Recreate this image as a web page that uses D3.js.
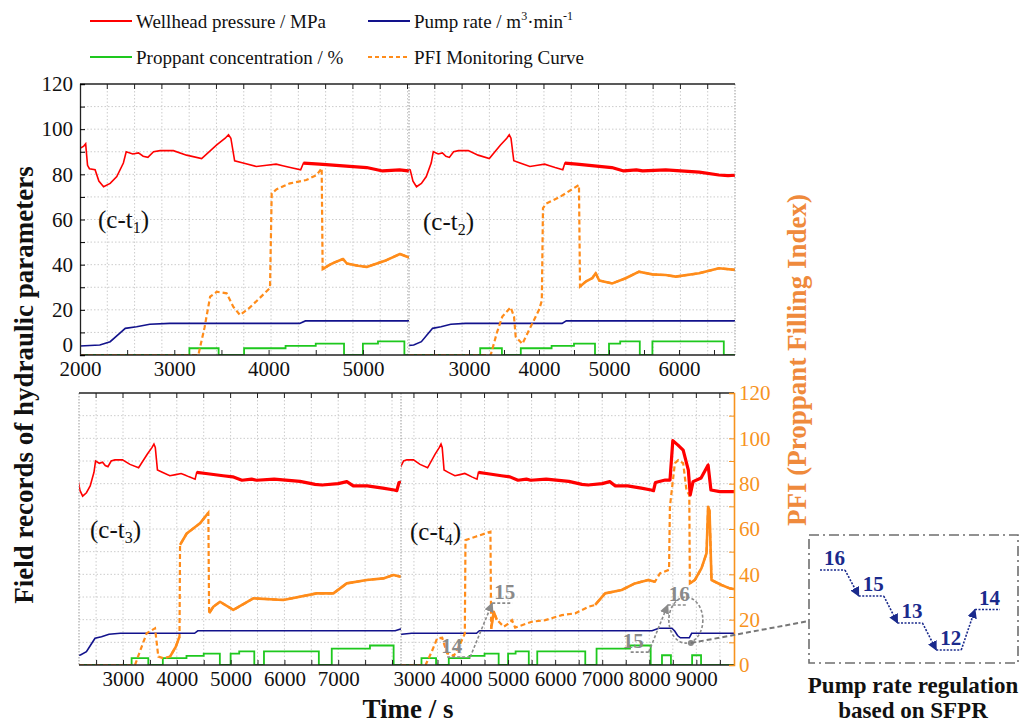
<!DOCTYPE html>
<html><head><meta charset="utf-8">
<script src="https://cdn.jsdelivr.net/npm/d3@7"></script>
<style>
body{margin:0;background:#fff}
svg{display:block}
text{font-family:"Liberation Serif","Times New Roman",serif}
</style>
</head><body>
<svg id="c" width="1022" height="724"></svg>
<script>
// ---------------- DATA ----------------
const redT = [2000,2040,2060,2080,2100,2160,2200,2250,2320,2390,2460,2490,2560,2620,2670,2720,2780,2850,2990,3130,3290,3450,3540,3575,3600,3640,3730,3870,3980,4080,4150,4230,4340,4370,4540,4860,5040,5210,5390,5480,5810,6290,6570,6700,7000,7160,7280,7540,7830,8040,8090,8130,8340,8440,8500,8610,8720,8830,8870,8930,9100,9250,9310,9500,9800];
const redV = [91.5,92.5,93.5,84,82.5,82,77,74.5,76,79,85,90,89,89.5,88,87.5,90,90.5,90.5,88.5,87,93,96,97.5,96,86,85,83.5,84,84.5,83.8,83,82,85,84.5,83.5,83,81.5,82,81.5,82,81,79.7,79.4,80,80.9,79,79,78,77.2,76.9,80.5,81.6,81.6,99,97,94.8,86,75,80.9,82.5,88.2,77.2,76.5,76.5];
const redNoisyFrom = 4370;

const blueT = [2000,2210,2320,2420,2480,2600,2740,2950,4330,4390,8060,8200,8480,8540,8600,8660,8850,8900,9800];
const blueV = [4,4.4,5.9,9.6,11.8,12.5,13.6,14,14,15.1,15.1,16.2,16.2,15,13,12,12,14,14];

const greenT = [2000,3160,3470,3740,4180,4500,4800,5000,5160,5440,5620,6640,6880,7590,8030,8270,8460,8910,9100,9800];
const greenV = [0,3,0,3,4,5,0,5,6,0,6,0,7.2,8.6,0,4.3,0,4.3,0,0];

const pfi1T = [2000,3255,3320,3380,3450,3555,3625,3697,3800,3900,4015,4033,4086,4227,4400,4510,4563,4573,4650,4700,4790,4830,4950,5040,5110,5250,5393,5489];
const pfi1V = [0,0,12,25.8,28,27.3,21.4,17.7,21,25,29.7,71.6,73.4,76,77.5,79.7,82.7,38,40,41,42.5,40.5,39.5,39,40,42,44.7,43.2];
const pfi1Solid = [[4573,5489]];

const pfi2T = [2143,3310,3400,3476,3595,3643,3667,3762,3905,4000,4040,4057,4100,4300,4571,4586,4667,4760,4810,4860,5048,5238,5429,5619,5810,5952,6286,6571,6800];
const pfi2V = [0,0,10,17,21.1,17,8.1,4.9,14,20,24,65,67,70,75.3,30.3,32.5,34,36.2,33,31.7,34,36.9,35.7,35.4,34.7,36.2,38.4,37.7];
const pfi2Solid = [[4586,6800]];

const pfi3T = [2182,3223,3330,3440,3595,3656,3749,3874,3980,4050,4060,4184,4431,4586,4600,4679,4803,5050,5422,5980,6600,6910,7158,7530,7838,8024,8167];
const pfi3V = [0,0,7,14,16.2,3.7,3,3.7,8,12.5,53,58,62.5,67.2,22.8,25.7,27.9,24.3,29.4,28.7,31.6,31.6,36,37.5,38.2,39.7,38.9];
const pfi3Solid = [[3874,4050],[4060,4586],[4600,8167]];

const pfi4T = [2725,3247,3380,3494,3600,3706,3847,3989,4081,4095,4307,4625,4640,4695,4760,4907,4990,5083,5150,5506,5790,6142,6426,6708,6850,7061,7413,7695,7978,8120,8226,8420,8438,8544,8614,8720,8790,8850,8862,8968,9110,9216,9250,9280,9322,9534,9710,9800];
const pfi4V = [0,0,6,11.8,12,5.1,4,9.6,13.9,55.1,56.6,58.8,16,23.5,20,16.9,18,19.8,16.5,19.1,19.8,22,22.8,25.7,26.5,31.6,33.1,36,37.5,36.7,40.4,42,69.8,89,90.4,89,77.2,75,36,37.5,42.7,49.3,69.8,68,37.5,35.3,33.8,33.5];
const pfi4Solid = [[4640,4760],[6850,8120],[8862,9800]];

const panelSubs = ["1","2","3","4"];
const panelDomains = [[2000,5489],[2143,6800],[2182,8167],[2725,9800]];
const panelTickLabels = [[2000,3000,4000,5000],[3000,4000,5000,6000],[3000,4000,5000,6000,7000],[3000,4000,5000,6000,7000,8000,9000]];
const yTickValues = [0,20,40,60,80,100,120];
const yDomain = [0,120];

// annotation data (pump rate steps, c-t4)
const annoRates1 = [14,15];   const annoT1 = [[3705,4195],[4664,5090]];
const annoRates2 = [15,16];   const annoT2 = [[7605,7988],[8393,8798]];
const insetRates = [16,15,13,12,14];

const legendItems = ["Wellhead pressure / MPa","Pump rate / m","Proppant concentration / %","PFI Monitoring Curve"];

// ---------------- LAYOUT ----------------
const svg = d3.select("#c");
const COL = {red:"#ff0000", blue:"#12128c", green:"#1ec81e", orange:"#ff8c1a", axisO:"#f7931e", title:"#ef8a3c", grid:"#cccccc", sep:"#999999", gray:"#8a8a8a", inset:"#1a2a8c"};
const rowsL = [{top:84, bot:355, left:80, right:735}, {top:393, bot:665, left:79, right:734}];
const panelRanges = [[80,409],[409,735],[79,401],[401,734]];
const panelRow = [0,0,1,1];
const pfiT = [pfi1T,pfi2T,pfi3T,pfi4T], pfiV=[pfi1V,pfi2V,pfi3V,pfi4V], pfiS=[pfi1Solid,pfi2Solid,pfi3Solid,pfi4Solid];

const yS = rowsL.map(r => d3.scaleLinear().domain(yDomain).range([r.bot, r.top]));
const xS = panelDomains.map((d,i) => d3.scaleLinear().domain(d).range(panelRanges[i]));

const defs = svg.append("defs");
panelRanges.forEach((r,i)=>{
  const row = rowsL[panelRow[i]];
  defs.append("clipPath").attr("id","clip"+i).append("rect")
    .attr("x",r[0]).attr("y",row.top-2).attr("width",r[1]-r[0]).attr("height",row.bot-row.top+2);
});
function marker(id,color){
  defs.append("marker").attr("id",id).attr("viewBox","0 0 10 10").attr("refX",9).attr("refY",5)
    .attr("markerWidth",6).attr("markerHeight",6).attr("orient","auto-start-reverse")
    .append("path").attr("d","M0,0L10,5L0,10z").attr("fill",color);
}
marker("arrG",COL.gray); marker("arrB",COL.inset);

// ----- grids -----
const gTop = d3.scaleLinear().domain([0,24]).range([rowsL[0].left,rowsL[0].right]);
rowsL.forEach((r,ri)=>{
  const y = yS[ri];
  svg.append("g").selectAll("line").data(d3.range(10,120,10)).join("line")
    .attr("x1",r.left).attr("x2",r.right).attr("y1",d=>y(d)).attr("y2",d=>y(d))
    .attr("stroke",COL.grid).attr("stroke-width",1).attr("stroke-dasharray","1.5,2");
});
svg.append("g").selectAll("line").data(d3.range(1,24)).join("line")
  .attr("x1",d=>gTop(d)).attr("x2",d=>gTop(d)).attr("y1",rowsL[0].top).attr("y2",rowsL[0].bot)
  .attr("stroke",COL.grid).attr("stroke-dasharray","1.5,2");
svg.append("g").selectAll("line").data(d3.range(1,24)).join("line")
  .attr("x1",d=>gTop(d)).attr("x2",d=>gTop(d)).attr("y1",rowsL[0].top).attr("y2",rowsL[0].top+5)
  .attr("stroke","#222");
[2,3].forEach(i=>{
  const x = xS[i], d = x.domain(), r = rowsL[1];
  const tv = d3.range(Math.ceil(d[0]/500)*500, d[1], 500);
  const g = svg.append("g");
  g.selectAll("line.gl").data(tv).join("line").attr("class","gl")
    .attr("x1",t=>x(t)).attr("x2",t=>x(t)).attr("y1",r.top).attr("y2",r.bot)
    .attr("stroke",COL.grid).attr("stroke-dasharray","1.5,2");
  g.selectAll("line.tk").data(tv).join("line").attr("class","tk")
    .attr("x1",t=>x(t)).attr("x2",t=>x(t)).attr("y1",r.top).attr("y2",r.top+5).attr("stroke","#222");
});

// ----- series -----
const lineGen = (x,y) => d3.line().x(d=>x(d[0])).y(d=>y(d[1]));
const zipArr = (T,V) => T.map((t,i)=>[t,V[i]]);
const redD = zipArr(redT,redV), blueD = zipArr(blueT,blueV), greenD = zipArr(greenT,greenV);

panelRanges.forEach((pr,i)=>{
  const x = xS[i], y = yS[panelRow[i]];
  const g = svg.append("g").attr("clip-path",`url(#clip${i})`);
  const ln = lineGen(x,y);
  g.append("path").attr("d", ln.curve(d3.curveStepAfter)(greenD)).attr("fill","none").attr("stroke",COL.green).attr("stroke-width",1.8);
  const ln2 = lineGen(x,y);
  g.append("path").attr("d", ln2(blueD)).attr("fill","none").attr("stroke",COL.blue).attr("stroke-width",1.6);
  const pd = zipArr(pfiT[i],pfiV[i]);
  g.append("path").attr("d", ln2(pd)).attr("fill","none").attr("stroke",COL.orange).attr("stroke-width",2.2).attr("stroke-dasharray","5,3");
  pfiS[i].forEach(([a,b])=>{
    g.append("path").attr("d", ln2(pd.filter(p=>p[0]>=a && p[0]<=b))).attr("fill","none")
      .attr("stroke",COL.orange).attr("stroke-width",2.6).attr("stroke-linejoin","round");
  });
  g.append("path").attr("d", ln2(redD)).attr("fill","none").attr("stroke",COL.red).attr("stroke-width",1.6);
  g.append("path").attr("d", ln2(redD.filter(p=>p[0]>=redNoisyFrom))).attr("fill","none").attr("stroke",COL.red).attr("stroke-width",3.2).attr("stroke-linejoin","round");
});

// ----- frames / separators -----
const r0 = rowsL[0], r1 = rowsL[1];
svg.append("line").attr("x1",409).attr("x2",409).attr("y1",r0.top).attr("y2",r0.bot).attr("stroke",COL.sep).attr("stroke-dasharray","1.5,1.5");
svg.append("line").attr("x1",401).attr("x2",401).attr("y1",r1.top).attr("y2",r1.bot).attr("stroke",COL.sep).attr("stroke-dasharray","1.5,1.5");
svg.append("line").attr("x1",r0.right).attr("x2",r0.right).attr("y1",r0.top).attr("y2",r0.bot).attr("stroke",COL.sep).attr("stroke-dasharray","1.5,1.5");
svg.append("line").attr("x1",r1.left).attr("x2",r1.left).attr("y1",r1.top).attr("y2",r1.bot).attr("stroke",COL.sep).attr("stroke-dasharray","1.5,1.5");
[[r0.left,r0.top,r0.right,r0.top],[r0.left,r0.bot,r0.right,r0.bot],[r1.left,r1.top,r1.right,r1.top],[r1.left,r1.bot,r1.right,r1.bot]]
  .forEach(l=>svg.append("line").attr("x1",l[0]).attr("y1",l[1]).attr("x2",l[2]).attr("y2",l[3]).attr("stroke","#222").attr("stroke-width",1.3));

// left axis (top row)
const yMinor = d3.range(0,121,10);
const axL = svg.append("g").attr("transform",`translate(${r0.left},0)`)
  .call(d3.axisLeft(yS[0]).tickValues(yMinor).tickSize(-5).tickPadding(7).tickFormat(d=>yTickValues.includes(d)?d:""));
axL.select(".domain").attr("stroke","#222").attr("stroke-width",1.3);
axL.selectAll("text").attr("font-size",21).attr("fill","#111").attr("font-family",'"Liberation Serif",serif');
axL.selectAll("text").filter(d=>d===0).attr("dy","-0.17em");
// right axis (bottom row)
const axR = svg.append("g").attr("transform",`translate(${r1.right},0)`)
  .call(d3.axisRight(yS[1]).tickValues(yMinor).tickSize(-5).tickPadding(5).tickFormat(d=>yTickValues.includes(d)?d:""));
axR.select(".domain").attr("stroke",COL.axisO).attr("stroke-width",1.6);
axR.selectAll("line").attr("stroke",COL.axisO);
axR.selectAll("text").attr("font-size",21).attr("fill",COL.axisO).attr("font-family",'"Liberation Serif",serif');

// bottom axes per panel
panelRanges.forEach((pr,i)=>{
  const x = xS[i], d = x.domain(), r = rowsL[panelRow[i]];
  const tv = d3.range(Math.ceil(d[0]/500)*500, d[1]+1, 500);
  const labs = panelTickLabels[i];
  const vals = Array.from(new Set(tv.concat(labs))).sort((a,b)=>a-b);
  const ax = svg.append("g").attr("transform",`translate(0,${r.bot})`)
    .call(d3.axisBottom(x).tickValues(vals).tickSize(-5).tickPadding(6).tickFormat(v=>labs.includes(v)?v:""));
  ax.select(".domain").remove();
  ax.selectAll("line").attr("stroke","#222");
  ax.selectAll("text").attr("font-size",21).attr("fill","#111").attr("font-family",'"Liberation Serif",serif');
});

// panel labels
const labPos = [[98,228],[423,230],[90,538],[410,540]];
labPos.forEach((p,i)=>{
  const t = svg.append("text").attr("x",p[0]).attr("y",p[1]).attr("font-size",25).attr("fill","#111");
  t.append("tspan").text("(c-t");
  t.append("tspan").attr("font-size",16).attr("dy",5).text(panelSubs[i]);
  t.append("tspan").attr("dy",-5).text(")");
});

// ----- annotations in c-t4 -----
const x4 = xS[3], yb = yS[1];
const annoLevels1 = [3.5,27.3], annoLevels2 = [5.7,26.5];
function anno(T,rates,levels,labelDx){
  const g = svg.append("g");
  T.forEach((seg,k)=>{
    g.append("line").attr("x1",x4(seg[0])).attr("x2",x4(seg[1])).attr("y1",yb(levels[k])).attr("y2",yb(levels[k]))
      .attr("stroke",COL.gray).attr("stroke-width",1.6).attr("stroke-dasharray","3,2");
    g.append("text").attr("x",x4(seg[0])+labelDx[k]).attr("y",yb(levels[k])-4).attr("font-size",21).attr("font-weight","bold")
      .attr("fill",COL.gray).text(rates[k]);
  });
  g.append("line").attr("x1",x4(T[0][1])).attr("y1",yb(levels[0])).attr("x2",x4(T[1][0])).attr("y2",yb(levels[1]))
    .attr("stroke",COL.gray).attr("stroke-width",1.6).attr("stroke-dasharray","3,2").attr("marker-end","url(#arrG)");
}
anno(annoT1,annoRates1,annoLevels1,[-6,2]);
anno(annoT2,annoRates2,annoLevels2,[-8,1]);

// ellipse + connector
const circT = 8777, circV = 19.8, dotT = 8884, dotV = 9.7;
svg.append("ellipse").attr("cx",x4(circT)).attr("cy",yb(circV)).attr("rx",17).attr("ry",23)
  .attr("fill","none").attr("stroke",COL.gray).attr("stroke-width",1.6).attr("stroke-dasharray","3,2");
svg.append("circle").attr("cx",x4(dotT)).attr("cy",yb(dotV)).attr("r",3).attr("fill",COL.gray);

// inset
const box = {x:809,y:535,w:209,h:128};
svg.append("line").attr("x1",x4(dotT)).attr("y1",yb(dotV)).attr("x2",box.x).attr("y2",621)
  .attr("stroke","#777").attr("stroke-width",2).attr("stroke-dasharray","5,3");
svg.append("rect").attr("x",box.x).attr("y",box.y).attr("width",box.w).attr("height",box.h)
  .attr("fill","none").attr("stroke","#6e6e6e").attr("stroke-width",1.6).attr("stroke-dasharray","10,4,2,4");
const ix = d3.scaleBand().domain(d3.range(insetRates.length)).range([820,1000]).paddingInner(0.355);
const iy = d3.scaleLinear().domain([12,13,15,16]).range([650,623,596,570]);
const ig = svg.append("g");
insetRates.forEach((r,k)=>{
  ig.append("line").attr("x1",ix(k)).attr("x2",ix(k)+ix.bandwidth()).attr("y1",iy(r)).attr("y2",iy(r))
    .attr("stroke",COL.inset).attr("stroke-width",1.6).attr("stroke-dasharray","2,1.5");
  ig.append("text").attr("x",ix(k)+4).attr("y",iy(r)-5).attr("font-size",21).attr("font-weight","bold").attr("fill",COL.inset).text(r);
  if(k>0){
    ig.append("line").attr("x1",ix(k-1)+ix.bandwidth()).attr("y1",iy(insetRates[k-1])).attr("x2",ix(k)).attr("y2",iy(r))
      .attr("stroke",COL.inset).attr("stroke-width",1.6).attr("stroke-dasharray","2,1.5").attr("marker-end","url(#arrB)");
  }
});
svg.append("text").attr("x",913).attr("y",693).attr("text-anchor","middle").attr("font-size",23).attr("font-weight","bold").attr("fill","#111").text("Pump rate regulation");
svg.append("text").attr("x",913).attr("y",718).attr("text-anchor","middle").attr("font-size",23).attr("font-weight","bold").attr("fill","#111").text("based on SFPR");

// titles
svg.append("text").attr("transform","translate(33,385) rotate(-90)").attr("text-anchor","middle")
  .attr("font-size",27).attr("font-weight","bold").attr("fill","#111").text("Field records of hydraulic parameters");
svg.append("text").attr("transform","translate(806,360) rotate(-90)").attr("text-anchor","middle")
  .attr("font-size",27).attr("font-weight","bold").attr("fill",COL.title).text("PFI (Proppant Filling Index)");
svg.append("text").attr("x",408).attr("y",718).attr("text-anchor","middle")
  .attr("font-size",27).attr("font-weight","bold").attr("fill","#111").text("Time / s");

// legend
const lg = svg.append("g");
const legRows = [[{c:COL.red,dash:null,x:90,t:legendItems[0]},{c:COL.blue,dash:null,x:368,t:legendItems[1],pump:true}],
                 [{c:COL.green,dash:null,x:90,t:legendItems[2]},{c:COL.orange,dash:"4,3",x:368,t:legendItems[3]}]];
const legY = [21,57];
legRows.forEach((row,ri)=>row.forEach(it=>{
  lg.append("line").attr("x1",it.x).attr("x2",it.x+42).attr("y1",legY[ri]).attr("y2",legY[ri])
    .attr("stroke",it.c).attr("stroke-width",2).attr("stroke-dasharray",it.dash);
  const t = lg.append("text").attr("x",it.x+46).attr("y",legY[ri]+7).attr("font-size",19).attr("fill","#111");
  t.append("tspan").text(it.t);
  if(it.pump){
    t.append("tspan").attr("font-size",12).attr("dy",-8).text("3");
    t.append("tspan").attr("dy",8).text("\u00b7min");
    t.append("tspan").attr("font-size",12).attr("dy",-8).text("-1");
  }
}));
</script>
</body></html>
